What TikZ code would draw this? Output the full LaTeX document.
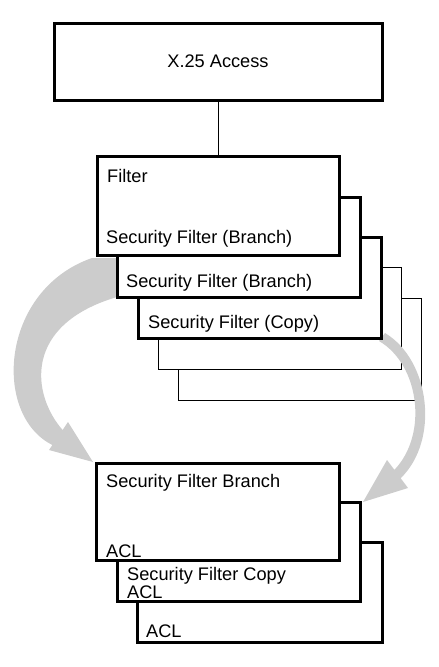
\documentclass[tikz,border=0pt]{standalone}
\usepackage{fontspec}
\setmainfont{Liberation Sans}
\begin{document}
\begin{tikzpicture}[x=1pt,y=-1pt,
  thickbox/.style={draw, line width=3pt, fill=white, anchor=north west, inner sep=0pt, outer sep=0pt},
  thinbox/.style={draw, line width=0.9pt, fill=white, anchor=north west, inner sep=0pt, outer sep=0pt},
  lbl/.style={anchor=base west, inner sep=0pt, font=\fontsize{18.2}{20}\selectfont},
  garrow/.style={fill=black!20, draw=none},
  link/.style={line width=0.9pt}]
\useasboundingbox (0,0) rectangle (439,667);

% stacked back boxes (thin)
\node[thinbox, minimum width=243pt, minimum height=102pt] (thinB) at (178,298) {};
\node[thinbox, minimum width=243pt, minimum height=102pt] (thinA) at (158,267) {};

% grey curved arrows
\path[garrow] (92,258) .. controls (0,290) and (-8,415) .. (52.4,445)
  -- (49,450) -- (93,462) -- (68,422) -- (62.6,430)
  .. controls (32,395) and (22,325) .. (117,297) -- (117,258) -- cycle;
\path[garrow] (385,333) .. controls (430,360) and (440,440) .. (400.7,478.2)
  -- (408,488) -- (363,502) -- (387,460) -- (394.4,469.8)
  .. controls (428,435) and (420,365) .. (379,341) -- cycle;

% upper stack
\node[thickbox, minimum width=243pt, minimum height=101pt] (copy) at (138,237) {};
\node[thickbox, minimum width=243pt, minimum height=100pt] (branch) at (117,197) {};
\node[thickbox, minimum width=242pt, minimum height=99pt] (filter) at (97,156) {};

% top box
\node[thickbox, minimum width=328pt, minimum height=77pt] (x25) at (54,23) {};
\node[font=\fontsize{18.2}{20}\selectfont, inner sep=0pt] (x25t) at (x25.center) {X.25 Access};
\draw[link] (x25) -- (filter);

% lower stack
\node[thickbox, minimum width=245pt, minimum height=100pt] (lc) at (137,542) {};
\node[thickbox, minimum width=243pt, minimum height=99pt] (lb) at (117,502) {};
\node[thickbox, minimum width=243pt, minimum height=97pt] (la) at (96,463) {};

% labels
\node[lbl] (t1) at (107,182) {Filter};
\node[lbl] (t2) at (106,243) {Security Filter (Branch)};
\node[lbl] (t3) at (126,287) {Security Filter (Branch)};
\node[lbl] (t4) at (148,328) {Security Filter (Copy)};
\node[lbl] (t5) at (106,487) {Security Filter Branch};
\node[lbl] (t6) at (106,557) {ACL};
\node[lbl] (t7) at (127,580) {Security Filter Copy};
\node[lbl] (t8) at (127,598) {ACL};
\node[lbl] (t9) at (146,637) {ACL};
\end{tikzpicture}
\end{document}
